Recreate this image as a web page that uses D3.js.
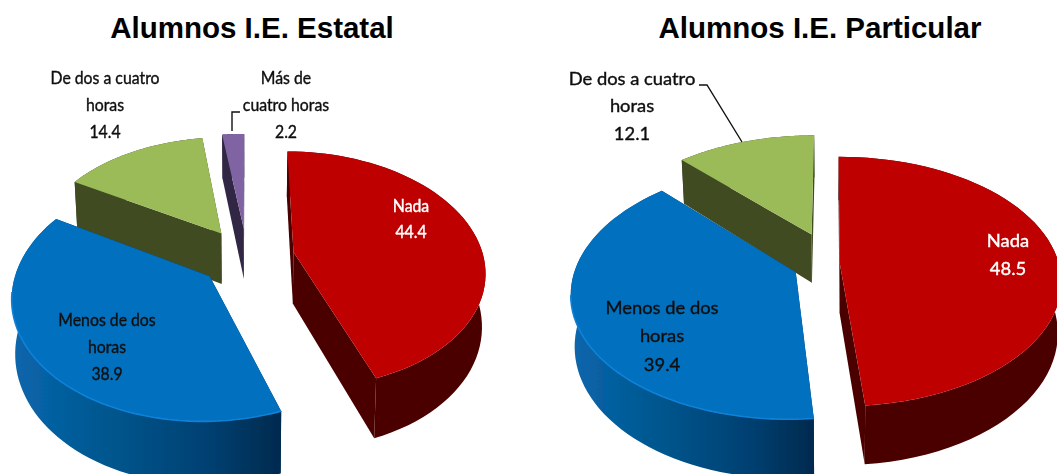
<!DOCTYPE html>
<html>
<head>
<meta charset="utf-8">
<script src="https://cdn.jsdelivr.net/npm/d3@7"></script>
<style>
html, body { margin: 0; padding: 0; background: #fff; overflow: hidden; }
svg { display: block; }
.title { font-family: "Liberation Sans", Arial, sans-serif; font-weight: bold; font-size: 29.5px; text-anchor: middle; fill: #000; }
.label { font-family: Lato, "Open Sans", sans-serif; text-anchor: middle; stroke-width: 0.4px; }
</style>
</head>
<body>
<svg id="chart" width="1057" height="474"></svg>
<script>
// values
const categories = ["Nada", "Menos de dos horas", "De dos a cuatro horas", "Más de cuatro horas"];
const estatalValues = [44.4, 38.9, 14.4, 2.2];
const particularValues = [48.5, 39.4, 12.1];

const topColors = ["#bf0000", "#006fbf", "#9bbb59", "#8064a2"];
const wallColors = ["#4c0000", "#003a68", "#404b24", "#332845"];
const rimHighlight = [null, "#0f82d8", null, null];

// how far each slice is pulled out, in units of the radius
const estatalExplode = [0.25, 0.25, 0.25, 0.25];
const particularExplode = [0.035, 0.18, 0.26];

const perspective = 0.15;
const svg = d3.select("#chart");
const line = d3.line();
const pie = d3.pie().sort(null).value(d => d);

const defs = svg.append("defs");
defs.append("filter").attr("id", "soft")
    .attr("x", "-5%").attr("y", "-5%").attr("width", "110%").attr("height", "110%")
    .append("feGaussianBlur").attr("stdDeviation", 0.7);
defs.append("filter").attr("id", "softText")
    .attr("x", "-5%").attr("y", "-5%").attr("width", "110%").attr("height", "110%")
    .append("feGaussianBlur").attr("stdDeviation", 0.3);

const blueGrad = defs.append("linearGradient").attr("id", "blueWall");
blueGrad.append("stop").attr("offset", "0%").attr("stop-color", "#0a66ad");
blueGrad.append("stop").attr("offset", "35%").attr("stop-color", "#00578f");
blueGrad.append("stop").attr("offset", "75%").attr("stop-color", "#003f70");
blueGrad.append("stop").attr("offset", "100%").attr("stop-color", "#002a4e");

function drawPie(cfg) {
    const g = svg.append("g").attr("filter", "url(#soft)");
    const xs = d3.scaleLinear().domain([-1, 1]).range([-cfg.rx, cfg.rx]);
    const ys = d3.scaleLinear().domain([-1, 1]).range([-cfg.ry, cfg.ry]);
    const arcs = pie(cfg.values);

    // disk coordinates -> screen, z is 0 on top and 1 at the bottom of the wall
    function project(u, v, z) {
        const s = 1 / (1 - perspective * v);
        return [
            cfg.vx + xs(u) * s * (1 - 0.015 * z),
            cfg.cy + ys(v) * s + z * cfg.depth * s
        ];
    }

    cfg.order.forEach(i => {
        const d = arcs[i];
        const mid = (d.startAngle + d.endAngle) / 2;
        const ou = Math.sin(mid) * cfg.explode[i];
        const ov = -Math.cos(mid) * cfg.explode[i];
        const angles = d3.range(0, 61).map(k => d.startAngle + (d.endAngle - d.startAngle) * k / 60);
        const rimAt = (a, z) => project(ou + Math.sin(a), ov - Math.cos(a), z);
        const apex = z => project(ou, ov, z);

        const walls = g.append("g").attr("fill", wallColors[i]);
        // the two cut faces
        [d.startAngle, d.endAngle].forEach(a => {
            walls.append("path")
                .attr("d", line([apex(0), rimAt(a, 0), rimAt(a, 1), apex(1)]) + "Z");
        });
        // outer wall
        const rim = angles.map(a => rimAt(a, 0)).concat(angles.slice().reverse().map(a => rimAt(a, 1)));
        walls.append("path")
            .attr("d", line(rim) + "Z")
            .attr("fill", i === 1 ? "url(#blueWall)" : wallColors[i]);

        // top face
        const top = [apex(0)].concat(angles.map(a => rimAt(a, 0)));
        g.append("path").attr("d", line(top) + "Z").attr("fill", topColors[i]);

        // light edge on the part of the rim that faces the viewer
        if (rimHighlight[i]) {
            const front = angles.filter(a => ov - Math.cos(a) > 0.25);
            g.append("path")
                .attr("d", line(front.map(a => rimAt(a, 0))))
                .attr("fill", "none")
                .attr("stroke", rimHighlight[i])
                .attr("stroke-width", 1.6);
        }
    });

    svg.append("text").attr("class", "title")
        .attr("x", cfg.titleX).attr("y", 38).text(cfg.title);

    cfg.labels.forEach(l => {
        const t = svg.append("text").attr("class", "label")
            .attr("filter", "url(#softText)")
            .attr("transform", `translate(${l.x},${l.y}) scale(${cfg.labelStretch},1)`)
            .style("font-size", cfg.labelSize + "px")
            .attr("fill", l.color).attr("stroke", l.color);
        l.lines.forEach((txt, k) => {
            t.append("tspan").attr("x", 0).attr("y", k * l.step).text(txt);
        });
    });

    cfg.leaders.forEach(pts => {
        svg.append("path").attr("d", line(pts))
            .attr("fill", "none").attr("stroke", "#111").attr("stroke-width", 1.4);
    });
}

drawPie({
    title: "Alumnos I.E. Estatal", titleX: 252,
    values: estatalValues, explode: estatalExplode, order: [3, 2, 0, 1],
    vx: 247, cy: 257, rx: 190, ry: 117, depth: 52,
    labelSize: 17, labelStretch: 0.93,
    labels: [
        { lines: ["Nada", estatalValues[0].toFixed(1)], x: 411, y: 212, step: 26.5, color: "#fff" },
        { lines: ["Menos de dos", "horas", estatalValues[1].toFixed(1)], x: 107, y: 326, step: 27, color: "#111" },
        { lines: ["De dos a cuatro", "horas", estatalValues[2].toFixed(1)], x: 105, y: 84, step: 27, color: "#111" },
        { lines: ["Más de", "cuatro horas", estatalValues[3].toFixed(1)], x: 286, y: 84, step: 27, color: "#111" }
    ],
    leaders: [[[240, 112], [232, 112], [232, 131]]]
});

drawPie({
    title: "Alumnos I.E. Particular", titleX: 820,
    values: particularValues, explode: particularExplode, order: [2, 0, 1],
    vx: 832, cy: 263, rx: 219, ry: 122, depth: 50,
    labelSize: 18, labelStretch: 1.02,
    labels: [
        { lines: ["Nada", particularValues[0].toFixed(1)], x: 1008, y: 247, step: 28, color: "#fff" },
        { lines: ["Menos de dos", "horas", particularValues[1].toFixed(1)], x: 662, y: 314, step: 28.5, color: "#111" },
        { lines: ["De dos a cuatro", "horas", particularValues[2].toFixed(1)], x: 632, y: 85, step: 27.5, color: "#111" }
    ],
    leaders: [[[699, 85], [707, 85], [742, 142]]]
});
</script>
</body>
</html>
